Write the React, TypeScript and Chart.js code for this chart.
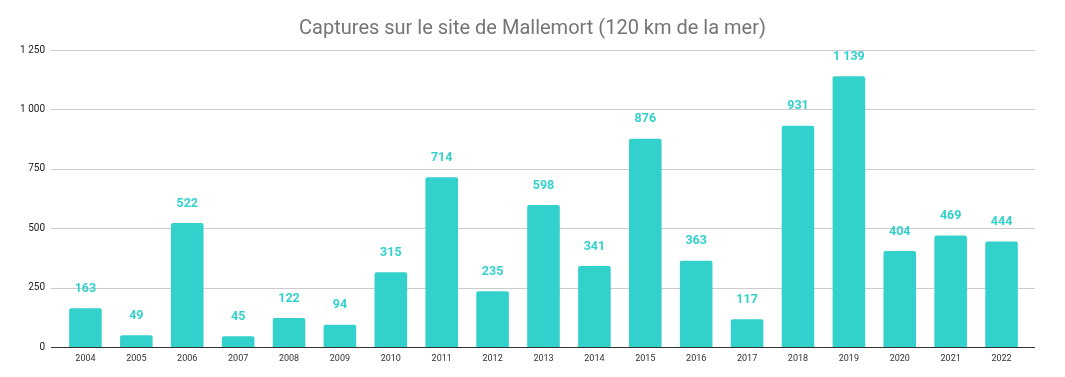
import React, { useEffect, useRef } from "react";
import { Chart, registerables } from "chart.js";

Chart.register(...registerables);

const years = ["2004","2005","2006","2007","2008","2009","2010","2011","2012","2013","2014","2015","2016","2017","2018","2019","2020","2021","2022"];
const captures = [163, 49, 522, 45, 122, 94, 315, 714, 235, 598, 341, 876, 363, 117, 931, 1139, 404, 469, 444];
const yTicks = [0, 250, 500, 750, 1000, 1250];
const chartTitle = "Captures sur le site de Mallemort (120 km de la mer)";

const TEAL = "#33D1CC";

function fmt(v: number): string {
  return String(Math.round(v)).replace(/\B(?=(\d{3})+(?!\d))/g, " ");
}

const gridPlugin = {
  id: "customGrid",
  beforeDatasetsDraw(chart: any) {
    const { ctx, chartArea, scales } = chart;
    const y = scales.y;
    const x0 = chartArea.left - 9;
    const x1 = chartArea.right + 8;
    ctx.save();
    ctx.lineWidth = 1;
    yTicks.forEach((t) => {
      if (t === 0) return;
      const py = Math.round(y.getPixelForValue(t)) + 0.5;
      ctx.strokeStyle = "#CCCCCC";
      ctx.beginPath();
      ctx.moveTo(x0, py);
      ctx.lineTo(x1, py);
      ctx.stroke();
    });
    ctx.restore();
  },
  afterDatasetsDraw(chart: any) {
    const { ctx, chartArea, scales } = chart;
    const y = scales.y;
    const x0 = chartArea.left - 9;
    const x1 = chartArea.right + 8;
    ctx.save();
    const py = Math.round(y.getPixelForValue(0)) + 0.5;
    ctx.strokeStyle = "#333333";
    ctx.lineWidth = 1;
    ctx.beginPath();
    ctx.moveTo(x0, py);
    ctx.lineTo(x1, py);
    ctx.stroke();
    const meta = chart.getDatasetMeta(0);
    ctx.fillStyle = TEAL;
    ctx.font = "bold 12.5px Roboto";
    ctx.textAlign = "center";
    ctx.textBaseline = "middle";
    meta.data.forEach((bar: any, i: number) => {
      const v = chart.data.datasets[0].data[i];
      ctx.fillText(fmt(v), bar.x, bar.y - 19.5);
    });
    // title centered on full canvas width
    ctx.fillStyle = "#757575";
    ctx.font = "20px Roboto";
    ctx.fillText(chartTitle, chart.width / 2, 28.5);
    ctx.restore();
  },
};

export default function App() {
  const ref = useRef<HTMLCanvasElement | null>(null);
  useEffect(() => {
    document.body.style.margin = "0";
    if (!ref.current) return;
    const chart = new Chart(ref.current, {
      type: "bar",
      data: {
        labels: years,
        datasets: [
          {
            data: captures,
            backgroundColor: TEAL,
            borderRadius: 2,
            barPercentage: 0.64,
            categoryPercentage: 1,
          },
        ],
      },
      options: {
        animation: false,
        responsive: true,
        maintainAspectRatio: false,
        layout: { padding: { left: 0, right: 38, top: 50, bottom: 0 } },
        plugins: {
          legend: { display: false },
          tooltip: { enabled: false },
          title: { display: false },
        },
        scales: {
          x: {
            grid: { display: false, drawTicks: false },
            border: { display: false },
            ticks: {
              color: "#333333",
              font: { family: "Roboto", size: 9 },
              padding: 6,
              maxRotation: 0,
              autoSkip: false,
            },
            afterFit(scale: any) {
              scale.height = 30;
            },
          },
          y: {
            min: 0,
            max: 1250,
            grid: { display: false, drawTicks: false },
            border: { display: false },
            ticks: {
              stepSize: 250,
              color: "#222222",
              font: { family: "Roboto", size: 10 },
              padding: 15,
              callback: (v: any) => fmt(Number(v)),
            },
            afterFit(scale: any) {
              scale.width = 60;
            },
          },
        },
      },
      plugins: [gridPlugin],
    });
    return () => chart.destroy();
  }, []);
  return (
    <div style={{ width: 1065, height: 377, position: "relative" }}>
      <canvas ref={ref} />
    </div>
  );
}
